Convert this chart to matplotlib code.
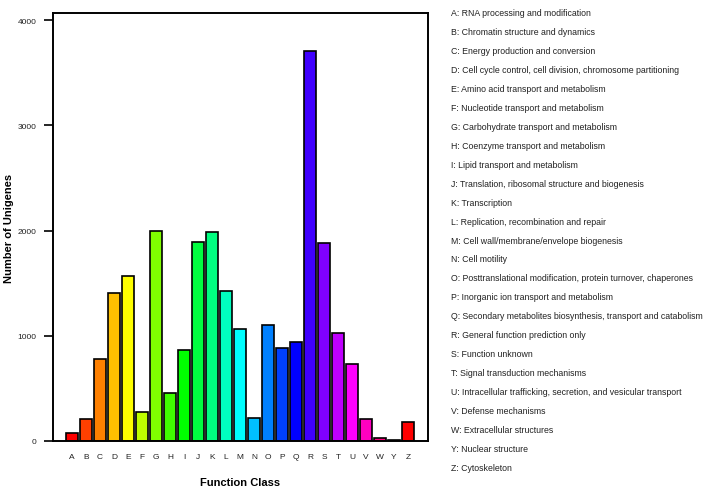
import numpy as np
import matplotlib.pyplot as plt
import colorsys

plt.rcParams['font.family'] = ['Liberation Sans', 'DejaVu Sans']

classes = ['A', 'B', 'C', 'D', 'E', 'F', 'G', 'H', 'I', 'J', 'K', 'L', 'M',
           'N', 'O', 'P', 'Q', 'R', 'S', 'T', 'U', 'V', 'W', 'Y', 'Z']
counts = [75, 207, 778, 1403, 1571, 276, 2000, 454, 867, 1889, 1984, 1425, 1064,
          219, 1102, 879, 943, 3708, 1883, 1029, 736, 207, 26, 5, 184]
descriptions = [
    'RNA processing and modification',
    'Chromatin structure and dynamics',
    'Energy production and conversion',
    'Cell cycle control, cell division, chromosome partitioning',
    'Amino acid transport and metabolism',
    'Nucleotide transport and metabolism',
    'Carbohydrate transport and metabolism',
    'Coenzyme transport and metabolism',
    'Lipid transport and metabolism',
    'Translation, ribosomal structure and biogenesis',
    'Transcription',
    'Replication, recombination and repair',
    'Cell wall/membrane/envelope biogenesis',
    'Cell motility',
    'Posttranslational modification, protein turnover, chaperones',
    'Inorganic ion transport and metabolism',
    'Secondary metabolites biosynthesis, transport and catabolism',
    'General function prediction only',
    'Function unknown',
    'Signal transduction mechanisms',
    'Intracellular trafficking, secretion, and vesicular transport',
    'Defense mechanisms',
    'Extracellular structures',
    'Nuclear structure',
    'Cytoskeleton',
]

# rainbow palette with 24 hues, wrapping back to red for the last bar
colors = [colorsys.hsv_to_rgb((i % 24) / 24, 1, 1) for i in range(len(classes))]

W, H = 708, 489
fig = plt.figure(figsize=(W / 100, H / 100), dpi=100)
ax = fig.add_axes([53 / W, 47 / H, 375 / W, 428 / H])

x = np.arange(len(classes))
ax.bar(x, counts, width=0.83, color=colors, edgecolor='black', linewidth=1.2)

ax.set_xlim(-1.36, len(classes) - 1 + 1.43)
ax.set_ylim(0, 4067)
ax.set_yticks([0, 1000, 2000, 3000, 4000])
ax.set_xticks(x)
ax.set_xticklabels(classes)
ax.tick_params(axis='x', length=0, pad=9, labelsize=6, labelcolor='#222222')
ax.tick_params(axis='y', length=6.5, width=1.2, pad=5.5, labelsize=6, labelcolor='#222222')
for sp in ax.spines.values():
    sp.set_linewidth(1.4)

fig.text(9 / W, 1 - 228 / H, 'Number of Unigenes', fontsize=8, fontweight='bold',
         rotation=90, ha='center', va='center')
fig.text(240 / W, 1 - 483 / H, 'Function Class', fontsize=8, fontweight='bold',
         ha='center', va='center')

y0 = 1 - 14 / H
step = 18.92 / H
for i, (c, d) in enumerate(zip(classes, descriptions)):
    fig.text(451 / W, y0 - i * step, f'{c}: {d}', fontsize=6.3,
             va='center', ha='left', color='#222222')

fig.savefig('out.png', dpi=100)
